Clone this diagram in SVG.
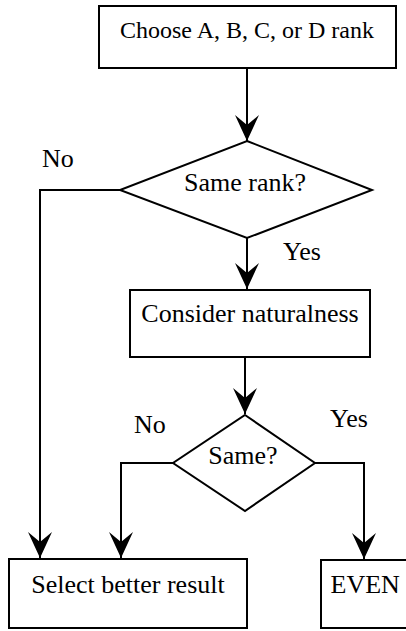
<svg xmlns="http://www.w3.org/2000/svg" width="406" height="631" viewBox="0 0 406 631">
<style>
.box{fill:#fff;stroke:#000;stroke-width:2}
.dia{fill:#fff;stroke:#000;stroke-width:2;stroke-linejoin:miter}
.ln{fill:none;stroke:#000;stroke-width:2}
text{font-family:"Liberation Serif","Times New Roman",serif;font-size:26px;fill:#000}
.c{text-anchor:middle}
</style>
<defs>
<marker id="ah" markerUnits="userSpaceOnUse" markerWidth="30" markerHeight="30" viewBox="-28 -14 30 28" refX="0" refY="0" orient="auto">
<path d="M0,0 L-26,-12 L-16,0 L-26,12 Z" fill="#000"/>
</marker>
</defs>
<g id="connectors">
<line class="ln" x1="247" y1="68" x2="247" y2="141" marker-end="url(#ah)"/>
<line class="ln" x1="247" y1="238" x2="247" y2="289" marker-end="url(#ah)"/>
<line class="ln" x1="245" y1="357" x2="245" y2="414" marker-end="url(#ah)"/>
<polyline class="ln" points="120,190 40,190 40,558" marker-end="url(#ah)"/>
<polyline class="ln" points="173,463 121,463 121,558" marker-end="url(#ah)"/>
<polyline class="ln" points="315,463 364,463 364,559" marker-end="url(#ah)"/>
</g>
<g id="choose">
<rect class="box" x="99" y="6" width="297" height="62"/>
<text class="c" x="247" y="37.5" style="font-size:24px">Choose A, B, C, or D rank</text>
</g>
<g id="same-rank">
<polygon class="dia" points="247,141 372,190 247,238 120,190"/>
<text class="c" x="245" y="191">Same rank?</text>
</g>
<g id="label-no-1"><text x="42" y="167">No</text></g>
<g id="label-yes-1"><text x="283" y="260">Yes</text></g>
<g id="consider">
<rect class="box" x="130" y="290" width="240" height="67"/>
<text class="c" x="250" y="322">Consider naturalness</text>
</g>
<g id="same">
<polygon class="dia" points="245,415 315,463 245,511 173,463"/>
<text class="c" x="243" y="464">Same?</text>
</g>
<g id="label-no-2"><text x="134" y="433">No</text></g>
<g id="label-yes-2"><text x="330" y="427">Yes</text></g>
<g id="select">
<rect class="box" x="9" y="559" width="238" height="69"/>
<text class="c" x="128" y="593">Select better result</text>
</g>
<g id="even">
<rect class="box" x="321" y="560" width="100" height="68"/>
<text x="330.5" y="593">EVEN</text>
</g>
</svg>
